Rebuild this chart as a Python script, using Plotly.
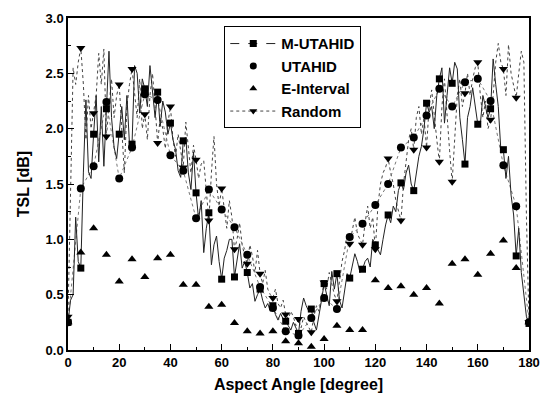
import plotly.graph_objects as go

# Aspect angle (degree) for dense lines: 0..180 step 1
angle = list(range(0, 181))
marker_angle = list(range(0, 181, 5))

m_utahid = [
    0.25, 0.45, 0.50, 1.20, 0.80, 0.74, 1.60, 2.26, 1.61, 1.55,
    1.95, 2.30, 1.70, 2.20, 1.66, 2.18, 2.70, 2.10, 1.83, 1.73,
    1.95, 2.20, 1.90, 2.30, 1.86, 1.86, 2.57, 2.50, 2.14, 2.45,
    2.36, 2.20, 2.57, 2.30, 2.10, 2.33, 2.02, 2.25, 2.15, 1.95,
    2.05, 1.90, 1.81, 1.62, 1.56, 1.89, 1.92, 1.60, 1.45, 1.79,
    1.42, 1.18, 1.35, 0.88, 1.10, 1.24, 0.77, 0.95, 1.03, 0.80,
    0.64, 0.83, 0.90, 1.00, 1.00, 0.66, 0.80, 0.96, 0.74, 0.80,
    0.70, 0.56, 0.60, 0.44, 0.50, 0.55, 0.45, 0.38, 0.42, 0.35,
    0.40, 0.32, 0.27, 0.33, 0.28, 0.26, 0.22, 0.18, 0.25, 0.20,
    0.15, 0.35, 0.47, 0.40, 0.35, 0.37, 0.25, 0.18, 0.30, 0.45,
    0.60, 0.50, 0.40, 0.71, 0.55, 0.69, 0.45, 0.38, 0.55, 0.69,
    0.65, 0.75, 0.87, 0.80, 0.70, 0.73, 0.80, 0.83, 0.75, 1.00,
    0.95, 0.90, 0.86, 1.00, 1.13, 1.22, 1.15, 1.30, 1.25, 1.44,
    1.51, 1.45, 1.60, 1.67, 1.50, 1.44, 1.60, 1.75, 1.84, 2.00,
    2.23, 2.15, 2.20, 2.00, 2.30, 2.45, 2.55, 2.05, 2.30, 2.55,
    2.41, 2.60, 2.54, 2.10, 1.90, 1.68, 2.10, 2.20, 2.37, 2.20,
    2.04, 2.04, 2.30, 2.20, 2.10, 2.18, 2.63, 2.40, 2.20, 1.81,
    1.81, 1.55, 1.75, 1.40, 1.22, 0.85, 1.10, 0.70, 0.50, 0.30,
    0.24,
]

random_sel = [
    0.30, 1.40, 2.55, 2.40, 2.60, 2.73, 2.40, 1.90, 2.30, 2.00,
    2.14, 2.30, 2.68, 2.40, 2.72, 1.93, 2.20, 2.45, 2.10, 2.30,
    2.40, 2.00, 1.60, 2.20, 2.40, 2.54, 2.30, 2.10, 2.45, 2.00,
    2.13, 1.90, 2.30, 2.50, 2.20, 1.87, 2.10, 2.00, 1.82, 2.05,
    2.20, 1.90, 1.75, 1.95, 1.80, 1.65, 2.06, 1.80, 1.60, 1.85,
    1.72, 1.55, 1.68, 1.71, 1.40, 1.17, 1.60, 1.93, 1.50, 1.30,
    1.46, 1.25, 1.10, 1.35, 1.20, 0.91, 1.00, 1.15, 0.95, 0.85,
    0.78, 0.95, 0.85, 0.70, 0.90, 0.69, 0.60, 0.72, 0.55, 0.50,
    0.47, 0.55, 0.42, 0.38, 0.45, 0.32, 0.28, 0.35, 0.30, 0.22,
    0.28, 0.20, 0.30, 0.25, 0.20, 0.16, 0.30, 0.40, 0.35, 0.50,
    0.61, 0.55, 0.70, 0.60, 0.50, 0.44, 0.65, 0.80, 0.90, 1.05,
    0.96, 1.10, 1.20, 1.05, 1.00, 0.95, 1.15, 1.30, 1.10, 1.20,
    0.91, 1.30, 1.50, 1.60, 1.65, 1.73, 1.60, 1.50, 1.35, 1.25,
    1.17, 1.50, 1.70, 1.90, 2.00, 1.81, 2.10, 2.20, 1.95, 2.10,
    1.83, 2.20, 2.35, 2.10, 1.90, 1.70, 2.20, 2.45, 2.10, 1.80,
    1.52, 1.90, 2.30, 2.45, 2.20, 2.32, 2.50, 2.30, 2.45, 2.55,
    2.60, 2.30, 2.10, 2.25, 2.00, 2.08, 2.30, 2.60, 2.77, 2.60,
    2.54, 2.30, 2.76, 2.50, 2.40, 2.28, 2.50, 2.70, 2.60, 1.20,
    0.25,
]

utahid = [
    0.25, 1.46, 1.66, 2.24, 1.55, 1.83, 2.31, 2.26, 1.76, 1.62,
    1.19, 1.45, 1.27, 1.11, 0.86, 0.57, 0.38, 0.17, 0.13, 0.29,
    0.47, 0.37, 1.02, 1.14, 1.31, 1.50, 1.83, 1.92, 2.12, 2.36,
    2.20, 2.42, 2.45, 2.25, 1.67, 1.30, 0.25,
]

e_interval = [
    0.25, 0.88, 1.10, 0.86, 0.62, 0.82, 0.66, 0.83, 0.86, 0.59,
    0.59, 0.39, 0.41, 0.245, 0.17, 0.15, 0.17, 0.08, 0.06, 0.03,
    0.10, 0.22, 0.18, 0.18, 0.63, 0.56, 0.575, 0.50, 0.56, 0.42,
    0.78, 0.82, 0.68, 0.87, 0.99, 0.74, 0.25,
]

x_ticks = [0, 20, 40, 60, 80, 100, 120, 140, 160, 180]
y_ticks = [0.0, 0.5, 1.0, 1.5, 2.0, 2.5, 3.0]
y_tick_labels = ["0.0", "0.5", "1.0", "1.5", "2.0", "2.5", "3.0"]

FONT = "Arial, Liberation Sans, sans-serif"

fig = go.Figure()

# Dense lines (no legend)
fig.add_trace(go.Scatter(x=angle, y=random_sel, mode="lines",
                         line=dict(color="#444444", width=1, dash="dot"),
                         showlegend=False, hoverinfo="skip"))
fig.add_trace(go.Scatter(x=marker_angle, y=utahid, mode="lines",
                         line=dict(color="#777777", width=1, dash="dot"),
                         showlegend=False, hoverinfo="skip"))
fig.add_trace(go.Scatter(x=angle, y=m_utahid, mode="lines",
                         line=dict(color="#222222", width=1),
                         showlegend=False, hoverinfo="skip"))

# Markers every 5 degrees
fig.add_trace(go.Scatter(x=marker_angle, y=m_utahid[::5], mode="markers",
                         marker=dict(symbol="square", size=7, color="black"),
                         showlegend=False))
fig.add_trace(go.Scatter(x=marker_angle, y=utahid, mode="markers",
                         marker=dict(symbol="circle", size=8, color="black"),
                         showlegend=False))
fig.add_trace(go.Scatter(x=marker_angle, y=e_interval, mode="markers",
                         marker=dict(symbol="triangle-up", size=8, color="black"),
                         showlegend=False))
fig.add_trace(go.Scatter(x=marker_angle, y=random_sel[::5], mode="markers",
                         marker=dict(symbol="triangle-down", size=8, color="black"),
                         showlegend=False))

# Legend entries
fig.add_trace(go.Scatter(x=[None], y=[None], mode="lines+markers", name="M-UTAHID",
                         line=dict(color="#222222", width=1, dash="dash"),
                         marker=dict(symbol="square", size=7, color="black")))
fig.add_trace(go.Scatter(x=[None], y=[None], mode="markers", name="UTAHID",
                         marker=dict(symbol="circle", size=7, color="black")))
fig.add_trace(go.Scatter(x=[None], y=[None], mode="markers", name="E-Interval",
                         marker=dict(symbol="triangle-up", size=7, color="black")))
fig.add_trace(go.Scatter(x=[None], y=[None], mode="lines+markers", name="Random",
                         line=dict(color="#444444", width=1, dash="dot"),
                         marker=dict(symbol="triangle-down", size=7, color="black")))

fig.update_layout(
    width=551, height=403,
    margin=dict(l=68, r=17, t=11, b=53),
    paper_bgcolor="white", plot_bgcolor="white",
    font=dict(family=FONT, size=12, color="black"),
    legend=dict(x=0.339, y=0.975, xanchor="left", yanchor="top",
                bgcolor="white", bordercolor="black", borderwidth=1,
                font=dict(family=FONT, size=15, color="black", weight="bold"),
                tracegroupgap=0, itemwidth=46),
    xaxis=dict(range=[0, 180], tickvals=x_ticks, ticks="inside", ticklen=6,
               tickcolor="black", showline=True, linecolor="black", linewidth=1.5,
               mirror=True, showgrid=False, zeroline=False,
               minor=dict(dtick=10, ticks="inside", ticklen=3, tickcolor="black"),
               tickfont=dict(family=FONT, size=13, color="black", weight="bold"),
               title=dict(text="Aspect Angle [degree]", standoff=9,
                          font=dict(family=FONT, size=16, color="black", weight="bold"))),
    yaxis=dict(range=[0, 3.0], tickvals=y_ticks, ticktext=y_tick_labels,
               ticks="inside", ticklen=6, tickcolor="black",
               showline=True, linecolor="black", linewidth=1.5, mirror=True,
               showgrid=False, zeroline=False,
               minor=dict(dtick=0.25, ticks="inside", ticklen=3, tickcolor="black"),
               tickfont=dict(family=FONT, size=13, color="black", weight="bold"),
               title=dict(text="TSL [dB]", standoff=12,
                          font=dict(family=FONT, size=16, color="black", weight="bold"))),
)

fig.write_html("out.html")
